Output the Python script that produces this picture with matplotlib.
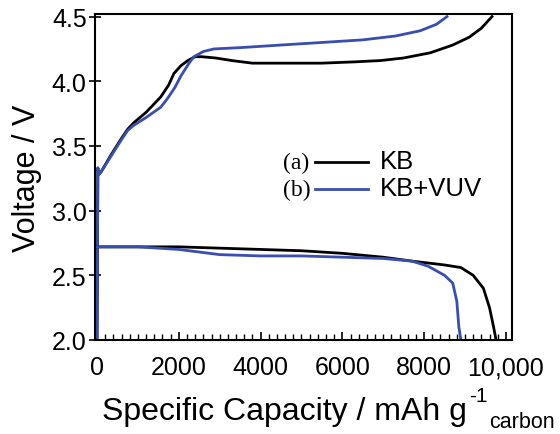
import matplotlib
matplotlib.use('Agg')
import matplotlib.pyplot as plt
import numpy as np
from matplotlib.ticker import MultipleLocator

plt.rcParams['font.family'] = ['Liberation Sans', 'DejaVu Sans']

# charge curves (capacity in mAh/g, voltage in V)
kb_chg_cap = [0, 20, 40, 100, 340, 600, 750, 900, 1200, 1560, 1750, 1880, 2050, 2220, 2400, 2550,
              2900, 3300, 3800, 4500, 5500, 6300, 6930, 7500, 8150, 8700, 9100, 9400, 9660]
kb_chg_v = [2.0, 3.33, 3.28, 3.30, 3.43, 3.56, 3.63, 3.68, 3.76, 3.88, 3.97, 4.06, 4.12, 4.16, 4.19, 4.19,
            4.18, 4.16, 4.14, 4.14, 4.14, 4.15, 4.16, 4.18, 4.22, 4.28, 4.34, 4.41, 4.5]
vuv_chg_cap = [0, 20, 40, 100, 340, 600, 750, 900, 1200, 1560, 1730, 1900, 2050, 2250, 2370, 2600,
               2860, 3500, 4490, 5500, 6500, 7300, 7900, 8300, 8560]
vuv_chg_v = [2.0, 3.33, 3.28, 3.30, 3.42, 3.55, 3.62, 3.66, 3.72, 3.80, 3.87, 3.95, 4.04, 4.14, 4.19, 4.23,
             4.25, 4.26, 4.28, 4.30, 4.32, 4.35, 4.39, 4.44, 4.5]

# discharge curves
kb_dis_cap = [0, 1000, 2000, 3000, 4000, 5000, 6000, 7000, 7700, 8500, 8900, 9200, 9450, 9600, 9700, 9760]
kb_dis_v = [2.72, 2.72, 2.72, 2.71, 2.70, 2.69, 2.67, 2.64, 2.61, 2.58, 2.56, 2.50, 2.40, 2.25, 2.10, 2.0]
vuv_dis_cap = [0, 1000, 2000, 3000, 4000, 5000, 6000, 7000, 7700, 8100, 8500, 8700, 8800, 8850, 8900]
vuv_dis_v = [2.72, 2.72, 2.70, 2.66, 2.65, 2.65, 2.64, 2.63, 2.61, 2.57, 2.50, 2.44, 2.30, 2.10, 2.0]

black = '#000000'
blue = '#3a4db0'

W, H = 560, 435
fig = plt.figure(figsize=(5.6, 4.35), dpi=100)
ax = fig.add_axes([95 / W, 1 - 341 / H, (512 - 95) / W, (341 - 15) / H])

ax.plot(kb_chg_cap, kb_chg_v, color=black, lw=2)
ax.plot(vuv_chg_cap, vuv_chg_v, color=blue, lw=2)
ax.plot(kb_dis_cap, kb_dis_v, color=black, lw=2)
ax.plot(vuv_dis_cap, vuv_dis_v, color=blue, lw=2)

ax.set_xlim(-50, 10150)
ax.set_ylim(2.0, 4.52)
ax.set_xticks([0, 2000, 4000, 6000, 8000, 10000])
ax.set_xticklabels(['0', '2000', '4000', '6000', '8000', '10,000'])
ax.xaxis.set_minor_locator(MultipleLocator(200))
ax.set_yticks([2.0, 2.5, 3.0, 3.5, 4.0, 4.5])
ax.set_yticklabels(['2.0', '2.5', '3.0', '3.5', '4.0', '4.5'])
ax.tick_params(axis='y', which='major', direction='inout', length=8, width=1.2,
               labelsize=18, pad=2)
ax.tick_params(axis='x', which='major', direction='in', length=6, width=1.2,
               labelsize=18, pad=11)
ax.tick_params(axis='x', which='minor', direction='in', length=4, width=1)
for s in ax.spines.values():
    s.set_linewidth(1.5)

def px(x, y):
    return x / W, 1 - y / H

# axis labels
fig.text(*px(27, 178), 'Voltage / V', rotation=90, fontsize=22, ha='center', va='center')
fig.text(*px(102, 420), 'Specific Capacity / mAh g', fontsize=23, ha='left', va='baseline')
fig.text(*px(469, 402), '-1', fontsize=15, ha='left', va='baseline')
fig.text(*px(489, 428), 'carbon', fontsize=15.5, ha='left', va='baseline')

# legend
for yy, lab, name, col in [(163, '(a)', 'KB', black), (190, '(b)', 'KB+VUV', blue)]:
    fig.text(*px(283, yy), lab, family='Liberation Serif', fontsize=17, ha='left', va='center')
    fig.add_artist(plt.Line2D([315 / W, 368 / W], [1 - yy / H, 1 - yy / H], color=col, lw=2))
    fig.text(*px(380, yy - 1), name, fontsize=18.5, ha='left', va='center')

fig.savefig('out.png', dpi=100)
